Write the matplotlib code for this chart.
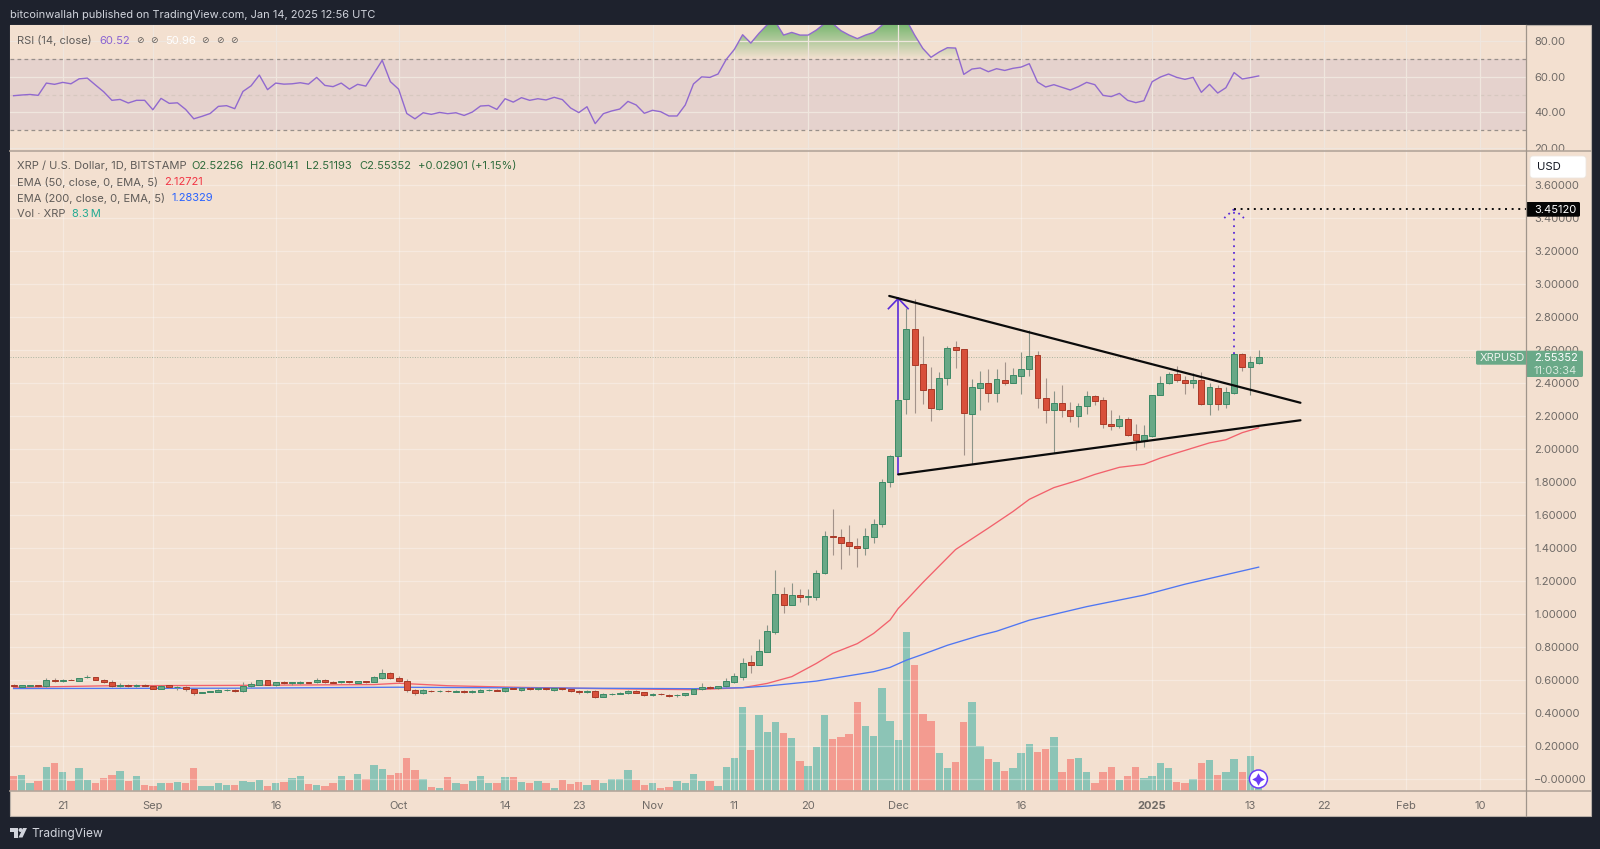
import numpy as np
import matplotlib.pyplot as plt
from matplotlib.patches import Rectangle, FancyBboxPatch, Circle, Polygon
from matplotlib.path import Path

plt.rcParams['font.family'] = ['Inter', 'DejaVu Sans']
plt.rcParams['font.size'] = 8.0

# ==========================================
# data, days are counted from 1 Sep 2024
# ==========================================
first_day = -17

opens = [.568, .559, .566, .567, .563, .600, .596, .602, .596, .617,
         .616, .602, .586, .565, .567, .563, .570, .566, .547, .567,
         .556, .559, .543, .523, .527, .530, .539, .541, .533, .561,
         .572, .597, .572, .586, .583, .584, .586, .585, .598, .586,
         .585, .592, .584, .592, .589, .613, .644, .610, .596, .539,
         .521, .536, .532, .535, .530, .535, .528, .530, .539, .541,
         .533, .552, .539, .549, .545, .549, .541, .549, .544, .533,
         .525, .533, .499, .513, .517, .520, .533, .525, .511, .514,
         .511, .506, .507, .517, .543, .559, .549, .561, .589, .619,
         .706, .690, .771, .892, 1.120, 1.055, 1.116, 1.102, 1.102, 1.245,
         1.472, 1.468, 1.435, 1.413, 1.397, 1.468, 1.542, 1.800, 1.954, 2.299,
         2.723, 2.513, 2.360, 2.243, 2.431, 2.614, 2.602, 2.212, 2.370, 2.396,
         2.336, 2.416, 2.396, 2.443, 2.483, 2.568, 2.305, 2.235, 2.275, 2.235,
         2.200, 2.257, 2.317, 2.293, 2.152, 2.140, 2.178, 2.087, 2.049, 2.077,
         2.327, 2.396, 2.451, 2.414, 2.400, 2.414, 2.271, 2.368, 2.271, 2.340,
         2.572, 2.497, 2.52256]
highs = [.575, .572, .572, .572, .610, .610, .606, .606, .613, .631,
         .620, .606, .602, .580, .575, .575, .575, .570, .570, .572,
         .566, .566, .548, .530, .535, .543, .548, .546, .590, .585,
         .602, .602, .590, .592, .590, .592, .590, .612, .606, .592,
         .596, .596, .596, .596, .626, .664, .650, .625, .608, .545,
         .544, .540, .540, .540, .538, .540, .537, .544, .546, .546,
         .560, .558, .555, .555, .558, .554, .553, .553, .548, .537,
         .537, .537, .518, .520, .525, .537, .537, .528, .522, .518,
         .516, .514, .523, .553, .580, .565, .566, .612, .640, .735,
         .750, .847, .932, 1.266, 1.161, 1.187, 1.150, 1.152, 1.266, 1.502,
         1.633, 1.512, 1.538, 1.457, 1.522, 1.573, 1.816, 1.960, 2.300, 2.851,
         2.905, 2.685, 2.497, 2.463, 2.622, 2.653, 2.606, 2.424, 2.473, 2.483,
         2.483, 2.527, 2.491, 2.584, 2.719, 2.592, 2.428, 2.352, 2.386, 2.285,
         2.275, 2.348, 2.325, 2.313, 2.235, 2.204, 2.192, 2.148, 2.144, 2.323,
         2.443, 2.467, 2.501, 2.441, 2.457, 2.463, 2.396, 2.386, 2.376, 2.578,
         2.578, 2.564, 2.60141]
lows = [.558, .556, .562, .560, .558, .588, .586, .597, .592, .610,
        .598, .580, .557, .558, .558, .558, .562, .544, .544, .552,
        .540, .535, .509, .520, .524, .526, .533, .530, .530, .556,
        .568, .568, .566, .578, .570, .578, .580, .580, .582, .580,
        .582, .580, .580, .584, .586, .608, .605, .588, .530, .510,
        .512, .528, .528, .526, .526, .522, .522, .526, .532, .532,
        .530, .544, .535, .540, .540, .540, .536, .540, .530, .515,
        .522, .492, .496, .510, .513, .517, .518, .505, .502, .508,
        .495, .497, .502, .512, .538, .548, .546, .560, .582, .600,
        .643, .688, .769, .878, 1.003, 1.053, 1.074, 1.055, 1.084, 1.243,
        1.356, 1.274, 1.356, 1.284, 1.354, 1.431, 1.528, 1.766, 1.950, 2.210,
        2.214, 2.271, 2.170, 2.235, 2.386, 2.487, 1.960, 1.911, 2.235, 2.285,
        2.285, 2.386, 2.396, 2.332, 2.441, 2.245, 2.156, 1.976, 2.192, 2.160,
        2.134, 2.210, 2.265, 2.128, 2.113, 2.124, 2.079, 1.992, 2.012, 2.073,
        2.323, 2.392, 2.406, 2.330, 2.368, 2.265, 2.202, 2.235, 2.247, 2.332,
        2.471, 2.325, 2.51193]
closes = [.564, .567, .568, .565, .600, .592, .601, .600, .610, .619,
          .602, .586, .565, .567, .563, .567, .566, .547, .566, .557,
          .558, .543, .521, .526, .531, .539, .541, .536, .561, .576,
          .597, .572, .586, .584, .585, .586, .584, .601, .587, .584,
          .592, .585, .591, .589, .615, .644, .610, .596, .539, .519,
          .537, .532, .535, .531, .533, .525, .532, .539, .541, .536,
          .551, .548, .549, .545, .553, .545, .549, .544, .533, .525,
          .533, .499, .513, .517, .522, .533, .522, .508, .516, .512,
          .505, .509, .518, .545, .559, .552, .561, .591, .621, .704,
          .690, .773, .894, 1.120, 1.051, 1.116, 1.102, 1.106, 1.245, 1.472,
          1.468, 1.431, 1.411, 1.397, 1.472, 1.544, 1.800, 1.954, 2.295, 2.725,
          2.509, 2.358, 2.247, 2.431, 2.612, 2.600, 2.218, 2.374, 2.396, 2.336,
          2.420, 2.396, 2.445, 2.483, 2.564, 2.307, 2.235, 2.275, 2.235, 2.200,
          2.257, 2.317, 2.291, 2.152, 2.138, 2.178, 2.085, 2.053, 2.081, 2.323,
          2.396, 2.451, 2.414, 2.396, 2.414, 2.271, 2.372, 2.271, 2.342, 2.574,
          2.497, 2.523, 2.55352]

# millions
volumes = [46, 49, 23, 30, 73, 84, 56, 30, 70, 33,
           24, 40, 49, 59, 30, 44, 17, 16, 25, 23,
           26, 25, 68, 16, 14, 23, 17, 19, 31, 28,
           33, 14, 25, 26, 40, 44, 21, 17, 14, 23,
           44, 34, 51, 37, 79, 67, 49, 54, 100, 63,
           35, 11, 9, 42, 23, 21, 31, 44, 23, 23,
           42, 42, 28, 23, 31, 24, 10, 32, 22, 28,
           19, 34, 24, 37, 37, 63, 32, 19, 24, 10,
           12, 31, 23, 51, 31, 31, 14, 73, 98, 253,
           124, 227, 178, 208, 173, 159, 91, 75, 131, 229,
           157, 163, 171, 267, 195, 166, 309, 211, 153, 476,
           379, 232, 211, 113, 70, 87, 206, 267, 136, 96,
           87, 61, 70, 115, 141, 117, 126, 162, 58, 96,
           100, 56, 23, 56, 73, 33, 45, 72, 39, 45,
           84, 70, 28, 24, 35, 85, 92, 49, 58, 96,
           56, 104, 8.3]

rsi = [49.4, 49.8, 50.1, 49.6, 56.5, 55.8, 56.9, 56.1, 58.9, 59.3,
       55.4, 51.6, 46.8, 47.3, 45.3, 46.8, 46.8, 41.5, 47.9, 45.1,
       45.4, 41.7, 36.4, 37.8, 39.4, 43.4, 43.8, 42.1, 51.8, 55.0,
       61.0, 52.8, 56.5, 55.9, 56.1, 56.7, 55.9, 59.7, 55.2, 54.5,
       56.5, 53.1, 55.8, 54.8, 62.0, 69.3, 57.3, 53.1, 39.4, 36.4,
       39.8, 38.9, 40.0, 39.3, 39.8, 38.3, 40.2, 43.6, 43.9, 41.7,
       47.7, 45.8, 48.3, 46.8, 47.7, 47.0, 48.5, 47.2, 42.5, 39.9,
       43.2, 33.7, 39.3, 40.8, 41.9, 46.2, 44.2, 39.5, 41.2, 40.4,
       38.0, 38.0, 44.2, 56.0, 60.0, 59.7, 61.6, 69.8, 75.5, 83.7,
       79.0, 84.5, 89.3, 91.0, 83.5, 85.0, 83.5, 83.5, 86.3, 90.0,
       90.0, 86.0, 83.5, 81.5, 83.5, 85.0, 89.0, 92.0, 92.0, 92.0,
       83.5, 76.0, 71.0, 74.0, 76.4, 76.2, 61.4, 64.4, 65.0, 62.9,
       64.6, 63.6, 64.8, 65.5, 67.4, 57.1, 54.3, 55.6, 54.1, 52.6,
       54.5, 56.9, 55.6, 49.6, 48.9, 50.7, 46.8, 45.5, 46.6, 57.3,
       59.9, 61.6, 59.7, 58.6, 59.7, 51.3, 55.8, 50.9, 53.9, 62.4,
       58.8, 59.6, 60.52]

ema50_days = [-17, -5, 10, 27, 30, 36, 45, 55, 66, 72, 75, 78, 81, 83, 86, 88, 90, 91, 92, 94,
              98, 102, 105, 107, 110, 113, 115, 118, 121, 123, 125, 129, 131, 133, 135]
ema50 = [.555, .565, .567, .572, .580, .565, .555, .547, .541, .553, .579, .620, .700, .761, .820, .882, .963, 1.033, 1.084, 1.190,
         1.390, 1.520, 1.620, 1.694, 1.765, 1.810, 1.845, 1.888, 1.906, 1.944, 1.975, 2.036, 2.055, 2.098, 2.12721]
ema200_days = [-17, 10, 30, 33, 45, 66, 72, 75, 81, 88, 90, 92, 94, 97, 101, 103, 107, 114, 121, 126, 135]
ema200 = [.548, .550, .556, .555, .552, .547, .553, .563, .593, .650, .676, .720, .755, .810, .870, .895, .962, 1.044, 1.114, 1.180, 1.28329]

tick_days = [-11, 0, 15, 30, 43, 52, 61, 71, 80, 91, 106, 122, 134, 143, 153, 162]
tick_labels = ['21', 'Sep', '16', 'Oct', '14', '23', 'Nov', '11', '20', 'Dec', '16', '2025', '13', '22', 'Feb', '10']
price_ticks = [0, .2, .4, .6, .8, 1, 1.2, 1.4, 1.6, 1.8, 2, 2.2, 2.4, 2.6, 2.8, 3, 3.2, 3.4, 3.6]
rsi_ticks = [20, 40, 60, 80]

# drawings on the chart
upper_line = ([89.9, 140.1], [2.926, 2.279])
lower_line = ([91, 140.1], [1.845, 2.173])
target_price = 3.4512
breakout_day = 132

# ==========================================
# figure, all panes are placed in pixels
# ==========================================
W, H = 1600, 849
BG = '#f3e0d0'
DARK = '#1e222d'
GRID = '#efe6de'
AXIS_TXT = '#6f6a66'
LEFT, RIGHT, TOP, SPLIT, BOTTOM = 9.5, 1525.7, 25, 151, 791
OUTER_R, OUTER_B = 1591, 816
XLIM = (-17.5, 167.6)


def pane(x0, y0, x1, y1):
    return [x0 / W, 1 - y1 / H, (x1 - x0) / W, (y1 - y0) / H]


fig = plt.figure(figsize=(W / 100, H / 100), dpi=100, facecolor=DARK)
fig.patches.append(Rectangle((LEFT / W, 1 - OUTER_B / H), (OUTER_R - LEFT) / W, (OUTER_B - TOP) / H,
                             transform=fig.transFigure, fc=BG, ec='#b9b0a8', lw=0.8, zorder=0))

days = np.arange(first_day, first_day + len(closes))
opens, highs, lows, closes = map(np.array, (opens, highs, lows, closes))
volumes, rsi = np.array(volumes), np.array(rsi)
up = closes >= opens

# --- RSI ---
ax_rsi = fig.add_axes(pane(LEFT, TOP, RIGHT, SPLIT), zorder=2, facecolor=BG)
ax_rsi.set_xlim(XLIM)
ax_rsi.set_ylim(18.3, 89.17)
ax_rsi.axhspan(30, 70, color='#e5d2cd', lw=0, zorder=0.5)
for lev, col in zip([70, 50, 30], ['#98908a', '#d6c8bf', '#98908a']):
    ax_rsi.axhline(lev, color=col, lw=0.9, ls=(0, (3, 2.6)), zorder=1)
ax_rsi.set_xticks(tick_days)
ax_rsi.set_yticks(rsi_ticks, [f'{v:.2f}' for v in rsi_ticks])
ax_rsi.yaxis.tick_right()
ax_rsi.tick_params(axis='x', length=0, labelbottom=False)
ax_rsi.tick_params(axis='y', length=0, pad=6, labelcolor=AXIS_TXT, labelsize=8.0)
ax_rsi.grid(True, color=GRID, lw=0.9, zorder=0.8)
for s in ax_rsi.spines.values():
    s.set_visible(False)

# green gradient above 70
over = ax_rsi.fill_between(days, 70, rsi, where=rsi > 70, interpolate=True, color='none')
grad = np.zeros((64, 2, 4))
grad[..., :3] = (0.45, 0.71, 0.42)
grad[..., 3] = np.linspace(0.95, 0, 64)[:, None]
im = ax_rsi.imshow(grad, extent=[XLIM[0], XLIM[1], 70, 89.17], aspect='auto', zorder=1.5, interpolation='bilinear')
im.set_clip_path(Path.make_compound_path(*over.get_paths()), transform=ax_rsi.transData)
ax_rsi.set_xlim(XLIM)
ax_rsi.set_ylim(18.3, 89.17)
ax_rsi.plot(days, rsi, color='#9169cf', lw=1.0, zorder=2)

# covers the part of the 20.00 label that falls under the divider
fig.patches.append(Rectangle((RIGHT / W, 1 - OUTER_B / H), (OUTER_R - RIGHT - 0.5) / W, (OUTER_B - SPLIT) / H,
                             transform=fig.transFigure, fc=BG, ec='none', zorder=2.5))

# --- volume under the candles ---
ax_vol = fig.add_axes(pane(LEFT, SPLIT, RIGHT, BOTTOM), zorder=3, facecolor=BG)
ax_vol.set_xlim(XLIM)
ax_vol.set_ylim(0, (BOTTOM - SPLIT) * 3)
ax_vol.bar(days, volumes, width=0.9, color=np.where(up, '#8cc4b6', '#f39b90'), edgecolor='none')
ax_vol.set_xticks([])
ax_vol.set_yticks([])
for s in ax_vol.spines.values():
    s.set_visible(False)

# --- price ---
ax = fig.add_axes(pane(LEFT, SPLIT, RIGHT, BOTTOM), zorder=4, facecolor='none')
ax.set_xlim(XLIM)
ax.set_ylim(-0.0727, 3.804)
ax.set_xticks(tick_days, tick_labels)
ax.set_yticks(price_ticks, ['\u22120.00000' if p == 0 else f'{p:.5f}' for p in price_ticks])
ax.yaxis.tick_right()
ax.tick_params(axis='x', length=0, pad=7, labelcolor=AXIS_TXT, labelsize=8.0)
ax.tick_params(axis='y', length=0, pad=6, labelcolor=AXIS_TXT, labelsize=8.0)
ax.get_xticklabels()[tick_labels.index('2025')].set_fontweight('bold')
ax.grid(True, color='#ffffff', alpha=0.32, lw=0.9)
ax.set_axisbelow(True)
for s in ax.spines.values():
    s.set_visible(False)

# last price line
ax.axhline(closes[-1], color='#a9b39f', lw=0.7, ls=(0, (1, 1.6)), zorder=1)

# measured move, goes behind the candles
ARROW = '#5a2bd8'
ax.plot([lower_line[0][0], lower_line[0][0]], [lower_line[1][0], upper_line[1][0] - 0.015], color=ARROW, lw=1.2, zorder=1.5)
ax.plot([89.8, 91, 92.2], [2.849, 2.911, 2.849], color=ARROW, lw=1.2, zorder=1.5)

# EMAs
ax.plot(ema50_days, ema50, color='#f2616c', lw=0.95, zorder=2)
ax.plot(ema200_days, ema200, color='#4f76f2', lw=0.95, zorder=2)

# candles
ax.vlines(days, lows, highs, colors=np.where(up, '#8b9488', '#a3938a'), lw=0.8, zorder=3)
ax.bar(days, closes - opens, bottom=opens, width=0.72, color=np.where(up, '#68a886', '#d8503b'),
       edgecolor=np.where(up, '#3c8a66', '#a93a28'), lw=0.7, zorder=3.5)

# triangle
ax.plot(*upper_line, color='#0b0b0b', lw=1.6, zorder=5, solid_capstyle='round')
ax.plot(*lower_line, color='#0b0b0b', lw=1.6, zorder=5, solid_capstyle='round')

# price target
ax.plot([breakout_day, breakout_day], [closes[breakout_day - first_day], target_price], color=ARROW, lw=1.3,
        ls=(0, (1, 2.7)), zorder=5)
ax.plot([breakout_day, breakout_day - 1.2], [target_price, 3.398], color=ARROW, lw=1.3, ls=(0, (1, 2.2)), zorder=5)
ax.plot([breakout_day, breakout_day + 1.2], [target_price, 3.398], color=ARROW, lw=1.3, ls=(0, (1, 2.2)), zorder=5)
ax.plot([breakout_day, XLIM[1]], [target_price, target_price], color='#0b0b0b', lw=1.4, ls=(0, (1, 2.4)), zorder=5)

# ==========================================
# overlay in pixels: frame, legends, tags
# ==========================================
ov = fig.add_axes([0, 0, 1, 1], zorder=10, facecolor='none')
ov.set_xlim(0, W)
ov.set_ylim(H, 0)
ov.axis('off')

ov.plot([LEFT, OUTER_R], [SPLIT, SPLIT], color='#b3a69b', lw=1.2)
ov.plot([LEFT, OUTER_R], [BOTTOM, BOTTOM], color='#b3a69b', lw=1.2)
ov.plot([RIGHT, RIGHT], [TOP, OUTER_B], color='#a0958b', lw=0.9)


def label(x, y, s, color='#5f5b58', size=8.0, **kw):
    return ov.text(x, y, s, color=color, fontsize=size, va='center', ha=kw.pop('ha', 'left'), **kw)


label(9.5, 15, 'bitcoinwallah published on TradingView.com, Jan 14, 2025 12:56 UTC', color='#d1d4dc', size=7.95)

# RSI legend
label(17, 40.5, 'RSI (14, close)')
label(99, 40.5, '60.52', color='#8a63d2')
label(165, 40.5, '50.96', color='#ffffff')
for x in [139.5, 154, 205, 219.5, 233.5]:
    label(x, 40.5, '\u2298', ha='center', family='DejaVu Sans', size=6.5)

# price legend
OHLC = '#2f6b3c'
label(17, 166, 'XRP / U.S. Dollar, 1D, BITSTAMP')
label(191, 166, f'O{opens[-1]:.5f}', color=OHLC)
label(250, 166, f'H{highs[-1]:.5f}', color=OHLC)
label(306, 166, f'L{lows[-1]:.5f}', color=OHLC)
label(359.5, 166, f'C{closes[-1]:.5f}', color=OHLC)
label(418, 166, '+0.02901 (+1.15%)', color=OHLC)
label(17, 182, 'EMA (50, close, 0, EMA, 5)')
label(164, 182, f'{ema50[-1]:.5f}', color='#f23645')
label(17, 198, 'EMA (200, close, 0, EMA, 5)')
label(171, 198, f'{ema200[-1]:.5f}', color='#2962ff')
label(17, 214, 'Vol \u00b7 XRP')
label(71.7, 214, '8.3\u2009M', color='#22ab94')

# tags on the price scale
ov.add_patch(FancyBboxPatch((1530, 156), 56, 22, boxstyle='round,pad=0,rounding_size=3', fc='white', ec='#ece6e0', lw=0.6))
label(1537, 167, 'USD', color='#131722', size=8.2)
ov.add_patch(FancyBboxPatch((1526, 202), 54, 14.7, boxstyle='round,pad=0,rounding_size=1.5', fc='#050505', ec='none'))
label(1534, 209.5, f'{target_price:.5f}', color='white')
TAG = '#6aa988'
ov.add_patch(FancyBboxPatch((1476, 350.7), 52, 14, boxstyle='round,pad=0,rounding_size=1.5', fc=TAG, ec='none'))
ov.add_patch(FancyBboxPatch((1526, 350.7), 57, 26.3, boxstyle='round,pad=0,rounding_size=1.5', fc=TAG, ec='none'))
label(1480, 357.7, 'XRPUSD', color='#eef4ee')
label(1534, 357.7, f'{closes[-1]:.5f}', color='#ffffff')
label(1534, 370.5, '11:03:34', color='#d7e8dc')

# the round button over the last volume bar
ov.add_patch(Circle((1258.4, 779), 9, fc='white', ec='#6a3cf6', lw=1.1))
ov.plot(1258.4, 779, marker=(4, 1, 0), ms=9, color='#6a3cf6', mew=0)

# logo and footer
LOGO = '#d1d4dc'
ov.add_patch(Polygon([(9.5, 828), (18, 828), (18, 837.5), (14, 837.5), (14, 832), (9.5, 832)], fc=LOGO, ec='none'))
ov.add_patch(Circle((20.6, 830), 2, fc=LOGO, ec='none'))
ov.add_patch(Polygon([(23, 828), (27, 828), (22.5, 837.5), (18.5, 837.5)], fc=LOGO, ec='none'))
label(31, 833.5, 'TradingView', color=LOGO, size=8.6)

fig.savefig('out.png', dpi=100, facecolor=DARK)
